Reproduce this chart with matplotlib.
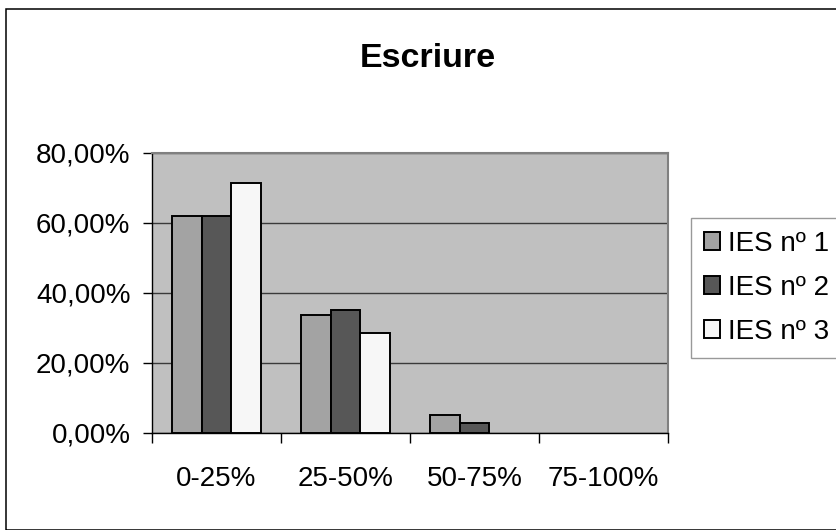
import matplotlib
matplotlib.use("Agg")
import matplotlib.pyplot as plt
from matplotlib.patches import Rectangle
from matplotlib.ticker import FuncFormatter
import numpy as np

plt.rcParams['font.family'] = ['Liberation Sans', 'DejaVu Sans']

title = "Escriure"
categories = ["0-25%", "25-50%", "50-75%", "75-100%"]
series_names = ["IES nº 1", "IES nº 2", "IES nº 3"]
ies1 = [62.1, 33.8, 5.2, 0.0]
ies2 = [62.1, 35.1, 3.0, 0.0]
ies3 = [71.4, 28.6, 0.0, 0.0]
colors = ["#A3A3A3", "#575757", "#F7F7F7"]

W, H = 836, 530
fig = plt.figure(figsize=(W / 100, H / 100), dpi=100)
fig.patch.set_facecolor("white")

# chart frame
fig.patches.append(Rectangle((6 / W, 0.5 / H), 1.2, (H - 9.5) / H, transform=fig.transFigure,
                             fill=False, edgecolor="black", linewidth=1.1))

left, right, top, bottom = 152, 668, 153, 433
ax = fig.add_axes([left / W, (H - bottom) / H, (right - left) / W, (bottom - top) / H])
ax.set_facecolor("#C0C0C0")

x = np.arange(len(categories)) + 0.5
bw = 0.23
for i, (vals, c, name) in enumerate(zip([ies1, ies2, ies3], colors, series_names)):
    bars = ax.bar(x + (i - 1) * bw, vals, width=bw, color=c, edgecolor="black",
                  linewidth=1.4, label=name, zorder=3)
    for b, v in zip(bars, vals):
        if v == 0:
            b.set_visible(False)

ax.set_xlim(0, len(categories))
ax.set_ylim(0, 80)
ax.set_yticks([0, 20, 40, 60, 80])
ax.yaxis.set_major_formatter(FuncFormatter(lambda v, p: f"{v:.2f}%".replace(".", ",")))
ax.yaxis.grid(True, color="#3A3A3A", linewidth=1.0, zorder=1)
ax.set_axisbelow(True)

ax.set_xticks(np.arange(len(categories) + 1))
ax.set_xticklabels([])
ax.set_xticks(x, minor=True)
ax.set_xticklabels(categories, minor=True)
ax.tick_params(axis="x", which="major", direction="out", length=7, width=1, color="black")
ax.tick_params(axis="x", which="minor", length=0, pad=24, labelsize=20)
ax.tick_params(axis="y", direction="out", length=6.5, width=1, color="black", pad=9, labelsize=20)

for s in ["top", "right"]:
    ax.spines[s].set_color("#808080")
    ax.spines[s].set_linewidth(1.5)
for s in ["left", "bottom"]:
    ax.spines[s].set_color("black")
    ax.spines[s].set_linewidth(1.0)

fig.text(428 / W, 1 - 67 / H, title, ha="center", va="baseline",
         fontsize=24.5, fontweight="bold")

leg = ax.legend(loc="center left", bbox_to_anchor=(691 / W, 1 - 288 / H),
                bbox_transform=fig.transFigure, fontsize=20, frameon=True,
                fancybox=False, edgecolor="#808080", handlelength=0.6,
                handleheight=0.6, handletextpad=0.3, labelspacing=0.65,
                borderpad=0.45, borderaxespad=0)
leg.get_frame().set_linewidth(1.0)

fig.savefig("out.png", dpi=100)
